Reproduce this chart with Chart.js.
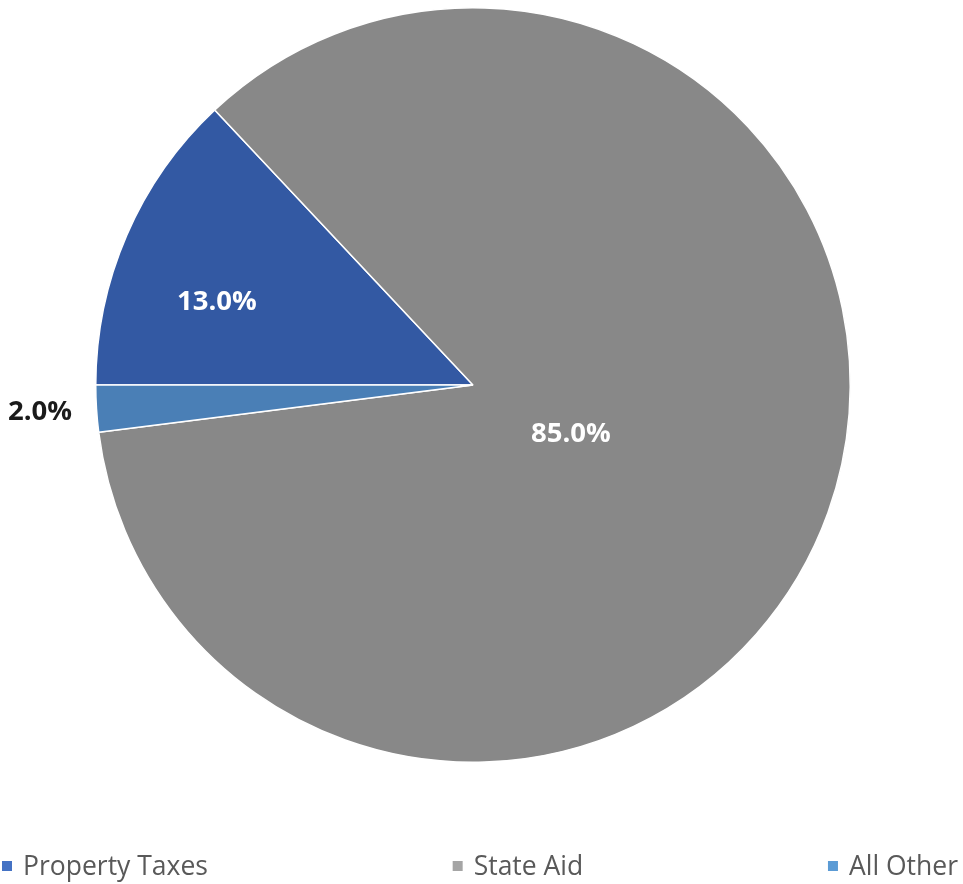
<!DOCTYPE html>
<html>
<head>
<meta charset="utf-8">
<script src="https://cdn.jsdelivr.net/npm/chart.js@4/dist/chart.umd.min.js"></script>
<style>
  html, body { margin: 0; padding: 0; background: #ffffff; }
  #wrap { width: 963px; height: 884px; position: relative; }
</style>
</head>
<body>
<div id="wrap"><canvas id="c" width="963" height="884"></canvas></div>
<script>
const categories = ["Property Taxes", "State Aid", "All Other"];
const shares = [13.0, 85.0, 2.0];
const valueLabels = ["13.0%", "85.0%", "2.0%"];

const sliceColors = ["#3359a3", "#888888", "#4a7fb6"];
const legendColors = ["#4472c4", "#a5a5a5", "#5b9bd5"];
const labelColors = ["#ffffff", "#ffffff", "#1a1a1a"];
// label placement: [fraction along slice arc, fraction of radius]
const labelPlacement = [[0.385, 0.714], [0.522, 0.29], [0.5, 1.15]];

const FONT = "'Open Sans', 'Liberation Sans', sans-serif";

const labelPlugin = {
  id: 'sliceLabels',
  afterDatasetsDraw(chart) {
    const ctx = chart.ctx;
    const meta = chart.getDatasetMeta(0);
    ctx.save();
    ctx.font = "bold 27.5px " + FONT;
    ctx.textAlign = 'center';
    ctx.textBaseline = 'middle';
    meta.data.forEach((arc, i) => {
      const p = arc.getProps(['x', 'y', 'startAngle', 'endAngle', 'outerRadius'], true);
      const [fa, fr] = labelPlacement[i];
      const a = p.startAngle + (p.endAngle - p.startAngle) * fa;
      const r = p.outerRadius * fr;
      ctx.fillStyle = labelColors[i];
      ctx.fillText(valueLabels[i], p.x + Math.cos(a) * r, p.y + Math.sin(a) * r);
    });
    ctx.restore();
  }
};

const legendPlugin = {
  id: 'spreadLegend',
  afterDraw(chart) {
    const ctx = chart.ctx;
    ctx.save();
    ctx.font = "26.5px " + FONT;
    ctx.textBaseline = 'middle';
    const box = 10, gapText = 11;
    const left = 2, right = 958, yMid = 866;
    const widths = categories.map(t => box + gapText + ctx.measureText(t).width);
    const total = widths.reduce((a, b) => a + b, 0);
    const gap = (right - left - total) / (categories.length - 1);
    let x = left;
    categories.forEach((t, i) => {
      ctx.fillStyle = legendColors[i];
      ctx.fillRect(x, yMid - box / 2, box, box);
      ctx.fillStyle = '#595959';
      ctx.fillText(t, x + box + gapText, yMid + 1.5);
      x += widths[i] + gap;
    });
    ctx.restore();
  }
};

new Chart(document.getElementById('c'), {
  type: 'pie',
  data: {
    labels: categories,
    datasets: [{
      data: shares,
      backgroundColor: sliceColors,
      borderColor: '#ffffff',
      borderWidth: 1.5
    }]
  },
  options: {
    responsive: false,
    animation: false,
    rotation: 270,
    layout: { padding: { top: 7, left: 0, right: 17, bottom: 121 } },
    plugins: {
      legend: { display: false },
      tooltip: { enabled: false }
    }
  },
  plugins: [labelPlugin, legendPlugin]
});
</script>
</body>
</html>
